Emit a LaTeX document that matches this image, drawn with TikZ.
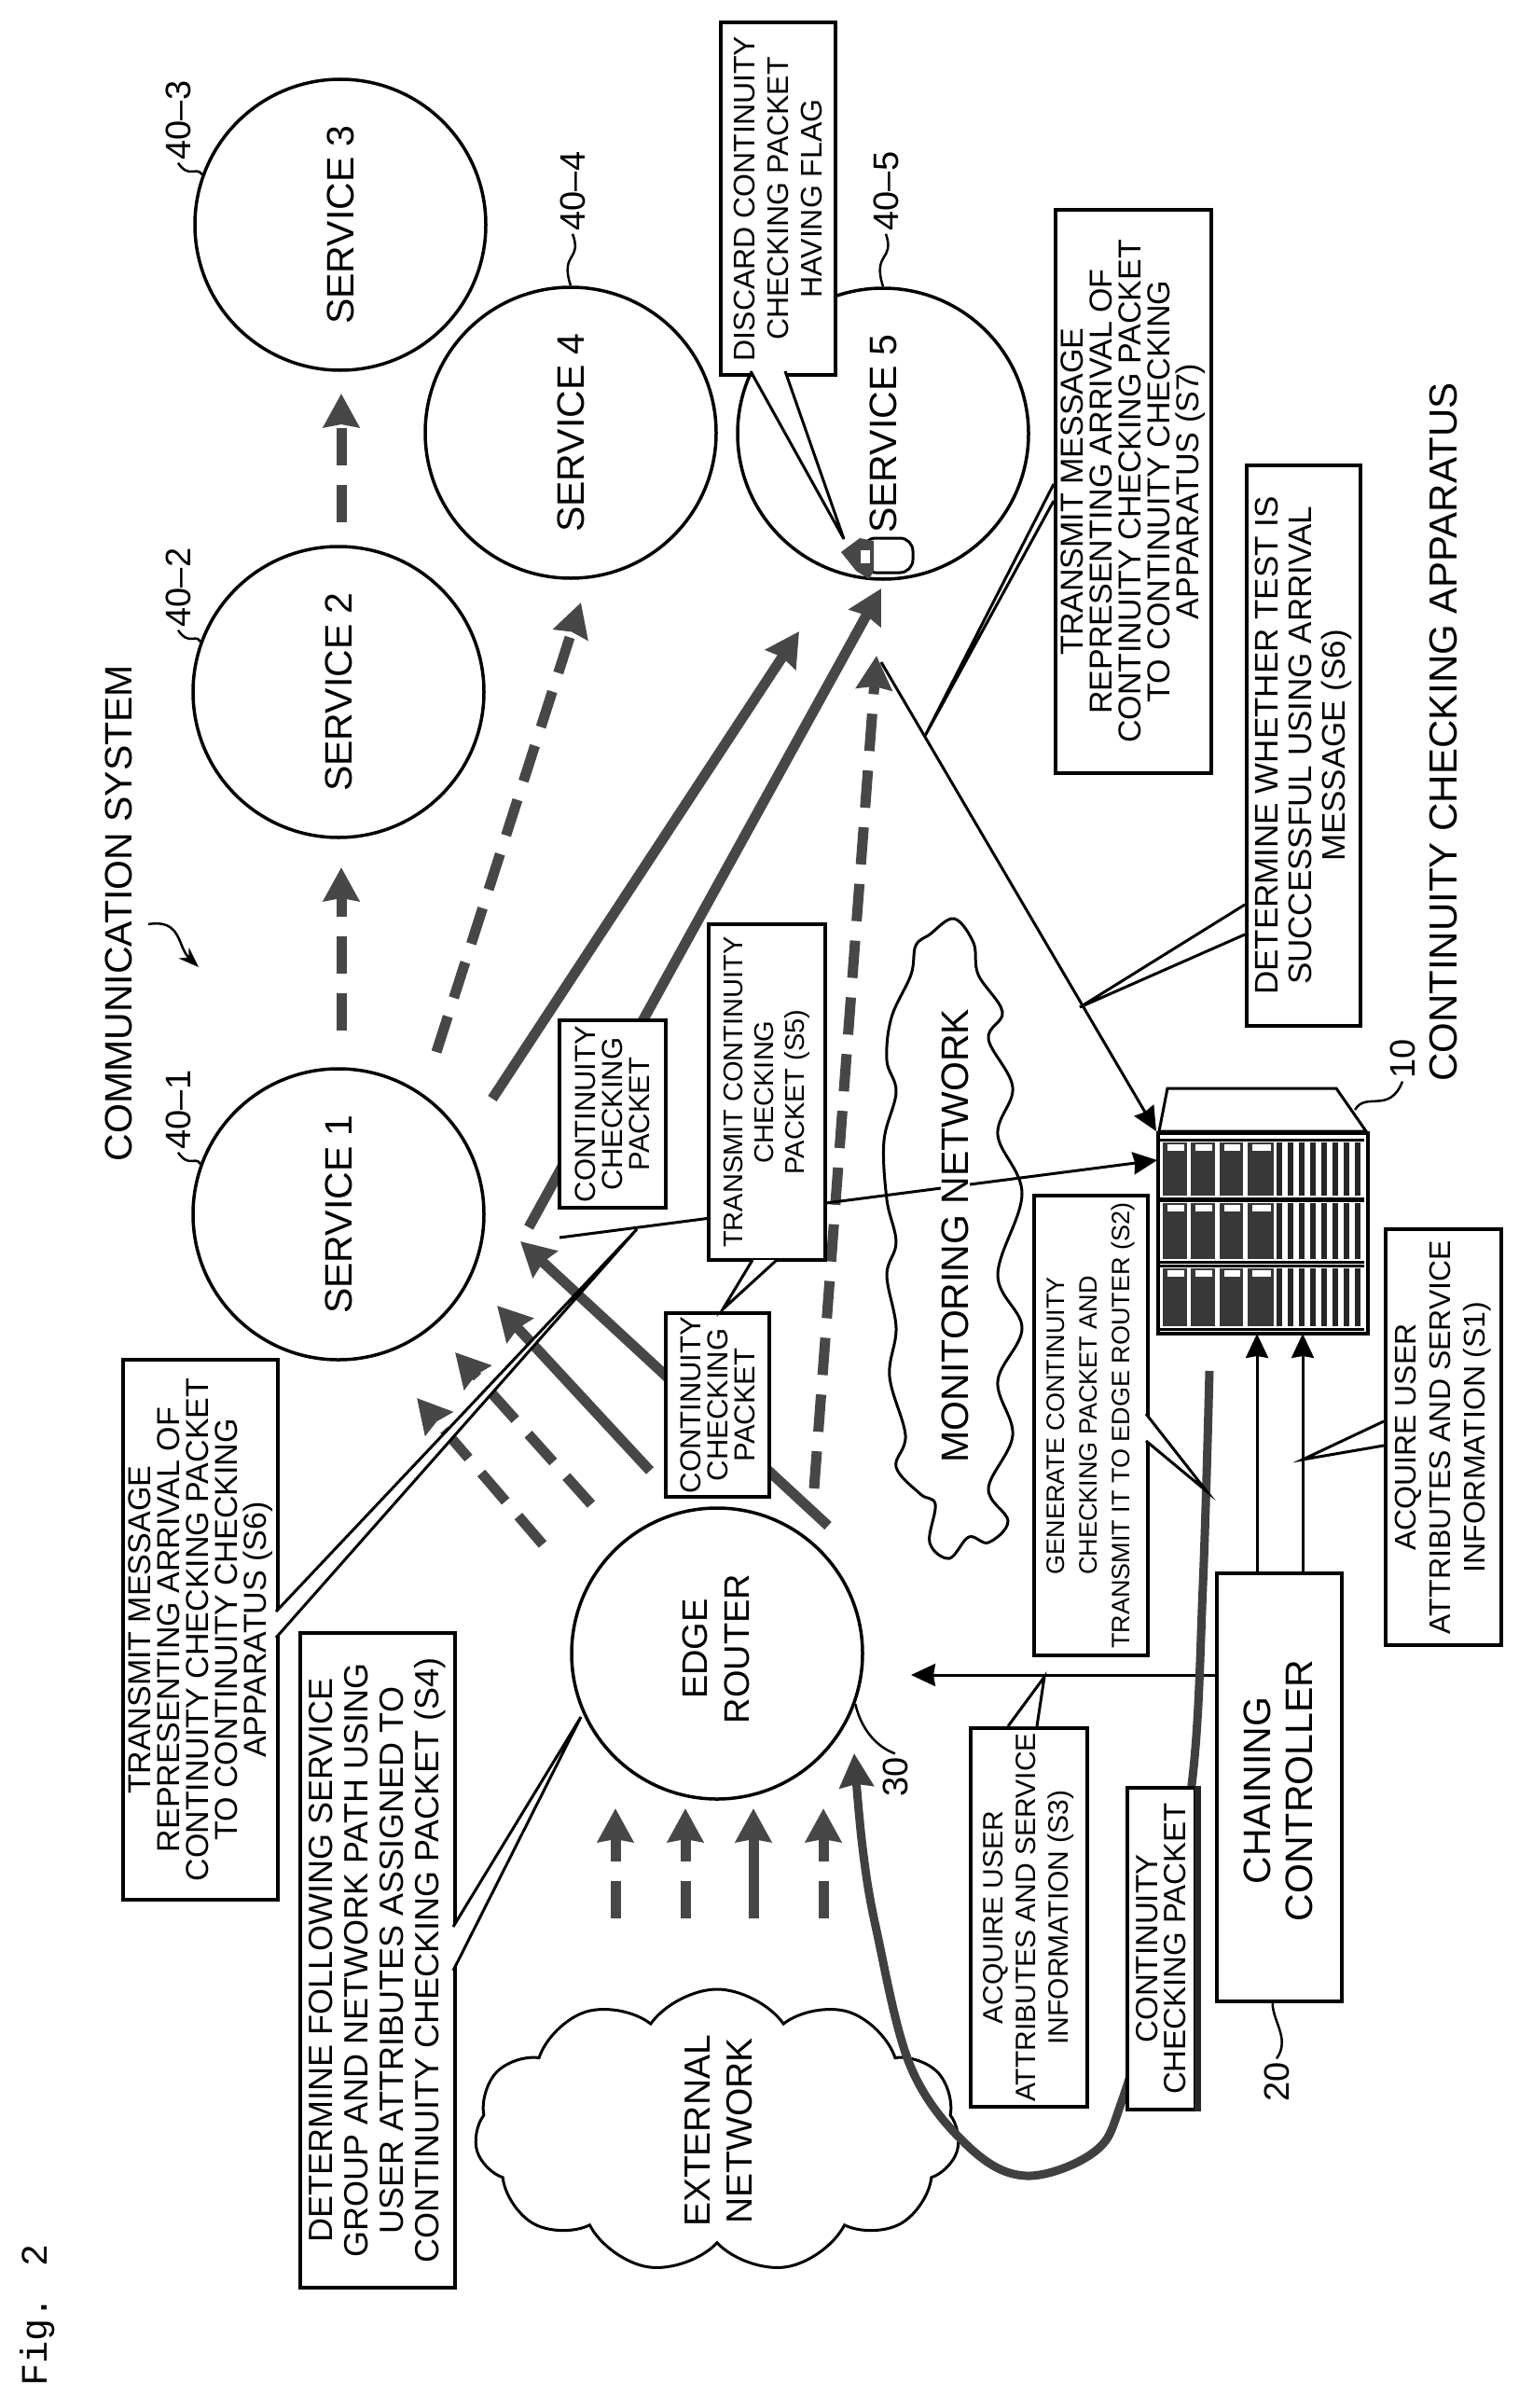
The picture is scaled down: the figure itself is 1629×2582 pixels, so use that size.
\documentclass[tikz,border=0pt]{standalone}
\usepackage{fontspec}
\setmainfont{Liberation Sans}
\newfontfamily\figfont{Liberation Mono}
\usetikzlibrary{arrows.meta,shapes.symbols}
\newcommand{\fs}[2]{\fontsize{#1}{#2}\selectfont}
\tikzset{
 x=1pt,y=-1pt,
 svc/.style={circle,draw,line width=3.5pt,minimum size=312pt,inner sep=0pt},
 svctext/.style={rotate=90,font=\fs{41}{45}},
 bx/.style={draw,line width=4pt,fill=white,inner sep=0pt,align=center},
 txt/.style={rotate=90,align=center,inner sep=2pt},
 reflbl/.style={rotate=90,font=\fs{38}{40}},
 lead/.style={line width=2.5pt},
 thin arr/.style={line width=3pt,-{Stealth[length=26pt,width=24pt,inset=2pt]}},
 bold arr/.style={line width=11pt,draw=black!72,-{Stealth[length=36pt,width=38pt,inset=3pt,fill=black!72]}},
 dash arr/.style={bold arr,dash pattern=on 40pt off 21pt},
 wedge/.style={draw,line width=3pt,fill=white},
}
\newcommand{\tbox}[8]{% name x1 y1 x2 y2 size leading text
 \node[bx,minimum width={#4-#2},minimum height={#5-#3},anchor=north west] (#1) at (#2,#3) {};
 \node[txt,font=\fs{#6}{#7}] at (#1.center) {#8};}
\begin{document}
\begin{tikzpicture}
\useasboundingbox (0,0) rectangle (1629,2582);
\fill[white] (0,0) rectangle (1629,2582);

% free-end coordinates
\foreach \n/\x/\y in {a12s/366/1105,a12e/366/930,a23s/366/560,a23e/366/422,
 a4s/468/1128,a4e/623/646,a5as/528/1178,a5ae/857/677,a5bs/567/1316,a5be/945/631,
 a5cs/873/1596,a5ce/940/703,
 ras/582/1656,rae/447/1499,rbs/634/1613,rbe/488/1450,rcs/697/1577,rce/533/1400,
 rds/888/1636,rde/558/1331,
 e1s/660/2057,e1e/660/1939,e2s/735/2057,e2e/735/1939,e3s/808/2057,e3e/808/1939,e4s/883/2057,e4e/883/1939,
 m1s/600/1327,m1e/1241/1244,m5s/945/710,c1e/1348/1430,c2e/1397/1430,s3e/977/1796,
 t1/213/1037,t0/159/991}
 {\coordinate (\n) at (\x,\y);}

% clouds
\node[cloud,draw,line width=3pt,cloud ignores aspect,cloud puffs=11,cloud puff arc=110,minimum width=520pt,minimum height=304pt,inner sep=0pt] (ext) at (769,2285) {};
\draw[line width=3pt] plot[smooth cycle,tension=.6] coordinates {
 (1023,985) (997,1002) (982,1014) (977,1045) (956,1091) (951,1137) (961,1171) (948,1223)
 (951,1286) (961,1332) (951,1367) (961,1424) (954,1476) (971,1539) (961,1573) (987,1602)
 (1003,1613) (997,1654) (1018,1671) (1039,1648) (1060,1654) (1081,1631) (1060,1596) (1086,1539)
 (1070,1481) (1096,1424) (1070,1367) (1096,1280) (1070,1217) (1086,1166) (1060,1114) (1075,1085)
 (1049,1045) (1044,1011)};

% circles
\node[svc] (s1) at (363,1302) {};
\node[svc] (s2) at (363,742) {};
\node[svc] (s3) at (365,241) {};
\node[svc] (s4) at (612,464) {};
\node[svc] (s5) at (947,465) {};
\node[svc] (er) at (769,1773) {};
\node[svctext] at (s1) {SERVICE 1};
\node[svctext] at (s2) {SERVICE 2};
\node[svctext] at (s3) {SERVICE 3};
\node[svctext] at (s4) {SERVICE 4};
\node[svctext] at (s5) {SERVICE 5};
\node[txt,font=\fs{38}{45}] at (768,1768) {EDGE\\ROUTER};
\node[txt,font=\fs{39}{45}] at (771,2285) {EXTERNAL\\NETWORK};

% service arrows
\draw[dash arr] (a12s) -- (a12e);
\draw[dash arr] (a23s) -- (a23e);
\draw[dash arr] (a4s) -- (a4e);
\draw[bold arr] (a5as) -- (a5ae);
\draw[bold arr] (a5bs) -- (a5be);
\draw[dash arr] (a5cs) -- (a5ce);
\draw[dash arr] (ras) -- (rae);
\draw[dash arr] (rbs) -- (rbe);
\draw[bold arr] (rcs) -- (rce);
\draw[bold arr] (rds) -- (rde);
\draw[dash arr] (e1s) -- (e1e);
\draw[dash arr] (e2s) -- (e2e);
\draw[bold arr] (e3s) -- (e3e);
\draw[dash arr] (e4s) -- (e4e);

% server
\draw[line width=3pt,fill=white] (1243,1213) -- (1252,1167) -- (1433,1167) -- (1465,1213) -- cycle;
\node[fill=white,draw,line width=4pt,minimum width=225pt,minimum height=215pt,inner sep=0pt,anchor=north west] (srv) at (1240,1213) {};
\foreach \yt/\yb in {1225/1282,1290/1350,1360/1422}{
  \foreach \xa/\xb in {1247/1273,1277/1303,1308/1333,1338/1366}{
    \fill[black!78] (\xa,\yt) rectangle (\xb,\yb);
    \fill[white] (\xa+5,\yt+2) rectangle (\xb-3,\yt+9);
  }
  \foreach \xs in {1369,1381,...,1457}{
    \fill[black!85] (\xs,\yt) rectangle (\xs+6,\yb);
  }
  \draw[line width=3pt] (1243,\yt-3) -- (1463,\yt-3);
  \draw[line width=3pt] (1243,\yb+3) -- (1463,\yb+3);
}

% thin connectors
\draw[thin arr] (m1s) -- (m1e);
\draw[thin arr] (m5s) -- (srv.north west);
\draw[thin arr] (1348,1685) -- (c1e);
\draw[thin arr] (1397,1685) -- (c2e);
\draw[thin arr] (1304,1796) -- (s3e);
\draw[line width=2.5pt,-{Stealth[length=22pt,width=16pt]}] (t0) .. controls (195,985) and (190,1015) .. (t1);

% thick curve
\draw[line width=9pt,draw=black!75,-{Stealth[length=36pt,width=36pt,inset=3pt,fill=black!75]}]
 plot[smooth,tension=0.6] coordinates {(1297,1470) (1290,1700) (1278,1914) (1240,2120) (1203,2253) (1174,2307) (1101,2333) (1039,2302) (977,2217) (940,2070) (925,1981) (916,1880)};

% text over the network line
\node[txt,font=\fs{41}{45},fill=white,inner sep=1pt] at (1024,1325) {MONITORING NETWORK};

% boxes
\node[bx,minimum width=134pt,minimum height=459pt,anchor=north west] (cc) at (1303,1685) {};
\node[txt,font=\fs{41}{45}] at (1371,1920) {CHAINING\\CONTROLLER};

\tbox{bdisc}{771}{22}{894}{400}{32}{36}{DISCARD CONTINUITY\\CHECKING PACKET\\HAVING FLAG}
\tbox{bs7}{1130}{223}{1297}{827}{34}{31}{TRANSMIT MESSAGE\\REPRESENTING ARRIVAL OF\\CONTINUITY CHECKING PACKET\\TO CONTINUITY CHECKING\\APPARATUS (S7)}
\tbox{bsb}{1335}{497}{1457}{1098}{35}{36}{DETERMINE WHETHER TEST IS\\SUCCESSFUL USING ARRIVAL\\MESSAGE (S6)}
\tbox{bs6}{130}{1456}{296}{2035}{34}{31}{TRANSMIT MESSAGE\\REPRESENTING ARRIVAL OF\\CONTINUITY CHECKING PACKET\\TO CONTINUITY CHECKING\\APPARATUS (S6)}
\tbox{bs4}{320}{1749}{486}{2451}{36}{38}{DETERMINE FOLLOWING SERVICE\\GROUP AND NETWORK PATH USING\\USER ATTRIBUTES ASSIGNED TO\\CONTINUITY CHECKING PACKET (S4)}
\tbox{bs5}{758}{989}{883}{1349}{29}{33}{TRANSMIT CONTINUITY\\CHECKING\\PACKET (S5)}
\tbox{bcca}{598}{1092}{712}{1293}{31}{29}{CONTINUITY\\CHECKING\\PACKET}
\tbox{bccb}{712}{1406}{823}{1603}{31}{29}{CONTINUITY\\CHECKING\\PACKET}
\tbox{bs2}{1107}{1280}{1229}{1773}{27}{35}{GENERATE CONTINUITY\\CHECKING PACKET AND\\TRANSMIT IT TO EDGE ROUTER (S2)}
\tbox{bs1}{1484}{1316}{1608}{1762}{32}{37}{ACQUIRE USER\\ATTRIBUTES AND SERVICE\\INFORMATION (S1)}
\tbox{bs3}{1039}{1851}{1164}{2257}{30}{35}{ACQUIRE USER\\ATTRIBUTES AND SERVICE\\INFORMATION (S3)}
\tbox{bccc}{1207}{1915}{1280}{2260}{33}{30}{CONTINUITY\\CHECKING PACKET}
\draw[line width=7pt,draw=black!85] (bccc.north east) -- (bccc.south east);

% callout wedges
\coordinate (wd) at (905,578);
\coordinate (w7) at (992,789);
\coordinate (w6b) at (1158,1080);
\coordinate (w6) at (683,1318);
\coordinate (w4) at (623,1841);
\coordinate (w5) at (775,1404);
\coordinate (w2) at (1294,1599);
\coordinate (w1) at (1397,1565);
\coordinate (w3) at (1120,1798);
\draw[wedge] (805,398) -- (wd) -- (842,398);
\draw[wedge] (1130,519) -- (w7) -- (1130,537);
\draw[wedge] (1335,970) -- (w6b) -- (1335,1002);
\draw[wedge] (296,1728) -- (w6) -- (296,1756);
\draw[wedge] (486,2066) -- (w4) -- (486,2113);
\draw[wedge] (807,1351) -- (w5) -- (833,1351);
\draw[wedge] (1229,1516) -- (w2) -- (1229,1545);
\draw[wedge] (1484,1524) -- (w1) -- (1484,1550);
\draw[wedge] (1081,1851) -- (w3) -- (1112,1851);

% packet icon
\draw[line width=3pt,fill=white,rounded corners=14pt] (925,577) rectangle (979,614);
\fill[black!72] (902,592) -- (922,577) -- (937,580) -- (937,612) -- (932,621) -- (918,612) -- cycle;
\fill[white] (923,590) rectangle (933,604);

% labels
\node[reflbl] (l3) at (191,129) {40--3};
\node[reflbl] (l2) at (191,630) {40--2};
\node[reflbl] (l1) at (191,1190) {40--1};
\node[reflbl] (l4) at (614,205) {40--4};
\node[reflbl] (l5) at (950,205) {40--5};
\node[reflbl] (l30) at (960,1905) {30};
\node[reflbl] (l20) at (1369,2232) {20};
\node[reflbl] (l10) at (1504,1135) {10};
\draw[lead] (s3.160) .. controls (210,178) and (203,192) .. (l3.west);
\draw[lead] (s2.160) .. controls (210,679) and (203,693) .. (l2.west);
\draw[lead] (s1.160) .. controls (210,1239) and (203,1253) .. (l1.west);
\draw[lead] (s4.north) .. controls (600,270) and (625,280) .. (l4.west);
\draw[lead] (s5.north) .. controls (935,270) and (960,280) .. (l5.west);
\draw[lead] (er.-20) .. controls (925,1860) and (945,1875) .. (l30.east);
\coordinate (cb) at (1365,2144);
\draw[lead] (cb) .. controls (1362,2165) and (1385,2185) .. (l20.east);
\coordinate (sb) at (1453,1190);
\draw[lead] (sb) .. controls (1465,1170) and (1490,1195) .. (l10.west);

\node[txt,font=\fs{41}{45}] at (127,979) {COMMUNICATION SYSTEM};
\node[txt,font=\fs{42}{45}] at (1548,785) {CONTINUITY CHECKING APPARATUS};
\node[rotate=90,font=\figfont\fs{40}{42}] at (40,2482) {Fig. 2};
\end{tikzpicture}
\end{document}
